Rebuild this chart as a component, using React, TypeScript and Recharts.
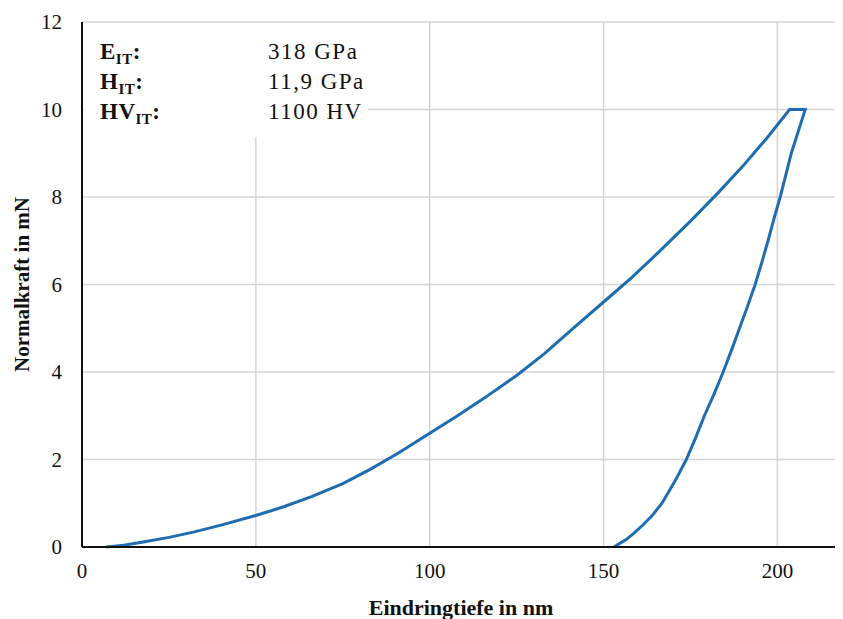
import React from "react";
import {
  LineChart,
  Line,
  XAxis,
  YAxis,
  CartesianGrid,
} from "recharts";

// indentation curve: loading branch then unloading branch
const depthNm = [
  7, 12, 18, 25, 32, 40, 50, 58, 66, 75, 83, 91, 100, 108, 116, 125, 133, 141,
  150, 158, 166, 175, 183, 190, 197, 203.5, 208,
  206, 204, 202.4, 200.8, 199, 197.3, 195.5, 193.6, 191.4, 189.1, 186.8, 184.4,
  181.8, 179, 176.5, 173.8, 170.5, 166.8, 164, 161, 158.5, 156.5, 155, 153,
];
const forceMN = [
  0, 0.04, 0.12, 0.22, 0.34, 0.5, 0.72, 0.92, 1.15, 1.45, 1.78, 2.15, 2.6, 3.0,
  3.42, 3.92, 4.42, 4.98, 5.6, 6.15, 6.75, 7.45, 8.1, 8.7, 9.35, 10, 10,
  9.5, 9, 8.5, 8, 7.5, 7, 6.5, 6, 5.5, 5, 4.5, 4,
  3.5, 3, 2.5, 2, 1.5, 1.0, 0.72, 0.48, 0.3, 0.17, 0.1, 0,
];

const xTicks = [0, 50, 100, 150, 200];
const yTicks = [0, 2, 4, 6, 8, 10, 12];

const results = [
  { sym: "E", value: "318 GPa" },
  { sym: "H", value: "11,9 GPa" },
  { sym: "HV", value: "1100 HV" },
];

const data = depthNm.map((d, i) => ({ depth: d, force: forceMN[i] }));

const FONT = '"Liberation Serif", "Times New Roman", serif';
const BLUE = "#1f6db0";

export default function App() {
  return (
    <div style={{ position: "relative", width: 835, height: 611, fontFamily: FONT }}>
      <LineChart
        width={835}
        height={611}
        data={data}
        margin={{ top: 14, right: 3, bottom: 4, left: 0 }}
      >
        <CartesianGrid stroke="#d4d4d4" strokeWidth={1.5} />
        <XAxis
          dataKey="depth"
          type="number"
          domain={[0, 218]}
          ticks={xTicks}
          allowDataOverflow
          tickLine={false}
          tickMargin={10}
          height={68}
          stroke="#111"
          strokeWidth={2}
          tick={{ fill: "#111", fontSize: 21, fontFamily: FONT }}
          label={{
            value: "Eindringtiefe in nm",
            position: "insideBottom",
            offset: 0,
            style: { fill: "#111", fontSize: 22, fontWeight: "bold", fontFamily: FONT },
          }}
        />
        <YAxis
          type="number"
          domain={[0, 12]}
          ticks={yTicks}
          tickLine={false}
          tickMargin={14}
          width={74}
          stroke="#111"
          strokeWidth={2}
          tick={{ fill: "#111", fontSize: 21, fontFamily: FONT }}
          label={{
            value: "Normalkraft in mN",
            angle: -90,
            position: "insideLeft",
            offset: 14,
            style: {
              textAnchor: "middle",
              fill: "#111",
              fontSize: 21,
              fontWeight: "bold",
              fontFamily: FONT,
            },
          }}
        />
        <Line
          dataKey="force"
          type="linear"
          stroke={BLUE}
          strokeWidth={3}
          dot={false}
          isAnimationActive={false}
        />
      </LineChart>
      <div
        style={{
          position: "absolute",
          left: 76,
          top: 15,
          width: 284,
          height: 114,
          background: "#fff",
          color: "#111",
          fontSize: 23,
        }}
      >
        {results.map((r, i) => (
          <div
            key={r.sym}
            style={{ position: "absolute", top: 16 + i * 30, left: 16, width: 270, lineHeight: "26px" }}
          >
            <span style={{ fontWeight: "bold", letterSpacing: 0.5 }}>
              {r.sym}
              <sub style={{ fontSize: 15, verticalAlign: "-5px" }}>IT</sub>:
            </span>
            <span style={{ position: "absolute", left: 168, letterSpacing: 1.5 }}>{r.value}</span>
          </div>
        ))}
      </div>
    </div>
  );
}
